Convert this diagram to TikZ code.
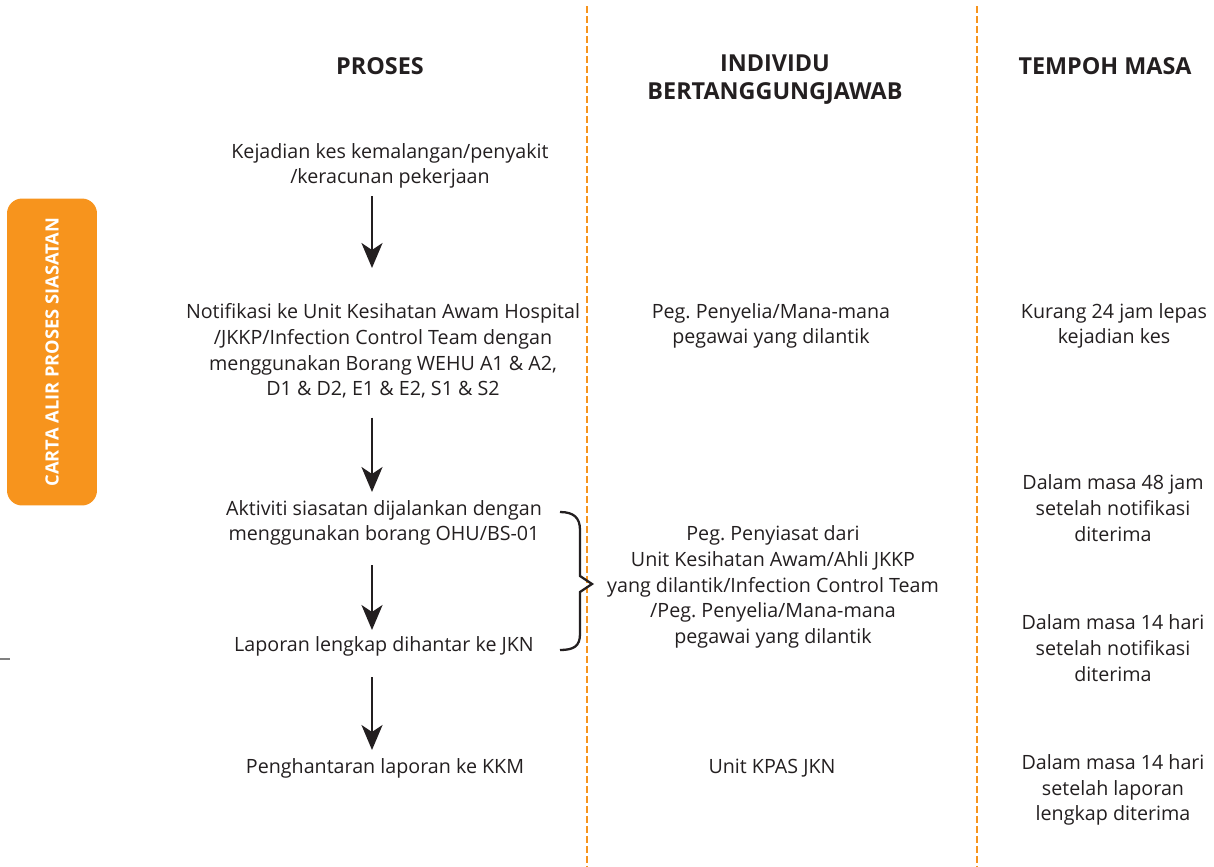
\documentclass[tikz,border=0pt]{standalone}
\usepackage{fontspec}
\setmainfont{Open Sans}
\usetikzlibrary{arrows.meta, positioning}
\definecolor{ink}{HTML}{231F20}
\definecolor{tabOrange}{HTML}{F7941D}
\frenchspacing
\tikzset{
  proc/.style={
    align=center,
    text=ink,
    inner sep=0pt,
    font=\fontsize{11.2}{14.6}\selectfont
  },
  head/.style={
    align=center,
    text=ink,
    inner sep=0pt,
    font=\fontsize{13.3}{15.9}\selectfont\bfseries
  },
  tab/.style={
    rectangle,
    rounded corners=0.3cm,
    fill=tabOrange,
    text=white,
    rotate=90,
    minimum width=6.14cm,
    minimum height=1.8cm,
    font=\fontsize{10.4}{12}\selectfont\bfseries
  },
  flow/.style={ink, line width=1.5pt, -{Stealth[length=0.5cm,width=0.42cm,inset=0.14cm]}},
  divider/.style={tabOrange, line width=1.4pt, dash pattern=on 0.14cm off 0.06cm},
  brace/.style={ink, line width=1.3pt, line join=miter}
}

\begin{document}
\begin{tikzpicture}[x=0.02cm, y=-0.02cm]
  \useasboundingbox (0,0) rectangle (1214,866);

  % column dividers
  \draw[divider] (587,6) -- (587,866);
  \draw[divider] (977,6) -- (977,866);
  \draw[gray, line width=0.8pt] (0,659) -- (10,659);

  % side tab
  \node[tab] (tab) at (52,352) {CARTA ALIR PROSES SIASATAN};

  % headings
  \node[head] (hproc) at (380,66) {PROSES};
  \node[head] (hwho) at (775,80) {INDIVIDU\\BERTANGGUNGJAWAB};
  \node[head] (htime) at (1105,66) {TEMPOH MASA};

  % process column
  \node[proc] (p1) at (390,166) {Kejadian kes kemalangan/penyakit\\/keracunan pekerjaan};
  \node[proc] (p2) at (383,351) {Notifikasi ke Unit Kesihatan Awam Hospital\\/JKKP/Infection Control Team dengan\\menggunakan Borang WEHU A1 \& A2,\\D1 \& D2, E1 \& E2, S1 \& S2};
  \node[proc] (p3) at (384,523) {Aktiviti siasatan dijalankan dengan\\menggunakan borang OHU/BS-01};
  \node[proc] (p4) at (384,646) {Laporan lengkap dihantar ke JKN};
  \node[proc] (p5) at (385,768) {Penghantaran laporan ke KKM};

  % responsible column
  \node[proc] (w1) at (771,326) {Peg. Penyelia/Mana-mana\\pegawai yang dilantik};
  \node[proc] (w2) at (773,587) {Peg. Penyiasat dari\\Unit Kesihatan Awam/Ahli JKKP\\yang dilantik/Infection Control Team\\/Peg. Penyelia/Mana-mana\\pegawai yang dilantik};
  \node[proc] (w3) at (772,768) {Unit KPAS JKN};

  % time column
  \node[proc] (t1) at (1114,326) {Kurang 24 jam lepas\\kejadian kes};
  \node[proc] (t2) at (1113,508) {Dalam masa 48 jam\\setelah notifikasi\\diterima};
  \node[proc] (t3) at (1113,648) {Dalam masa 14 hari\\setelah notifikasi\\diterima};
  \node[proc] (t4) at (1113,790) {Dalam masa 14 hari\\setelah laporan\\lengkap diterima};

  % arrows
  \coordinate (ax) at (372,0);
  \draw[flow] (p1.south -| ax) ++(0,7) -- (ax |- 0,268);
  \draw[flow] (p2.south -| ax) ++(0,19) -- (ax |- 0,492);
  \draw[flow] (p3.south -| ax) ++(0,19) -- (ax |- 0,630);
  \draw[flow] (p4.south -| ax) ++(0,21) -- (ax |- 0,750);

  % brace
  \coordinate (bt) at (560,512);
  \coordinate (bb) at (560,650);
  \draw[brace] (bt) .. controls (574,512) and (580,518) .. (580,530) -- (580,576)
    -- (592,584) -- (580,592) -- (580,634) .. controls (580,646) and (574,650) .. (bb);
\end{tikzpicture}
\end{document}
